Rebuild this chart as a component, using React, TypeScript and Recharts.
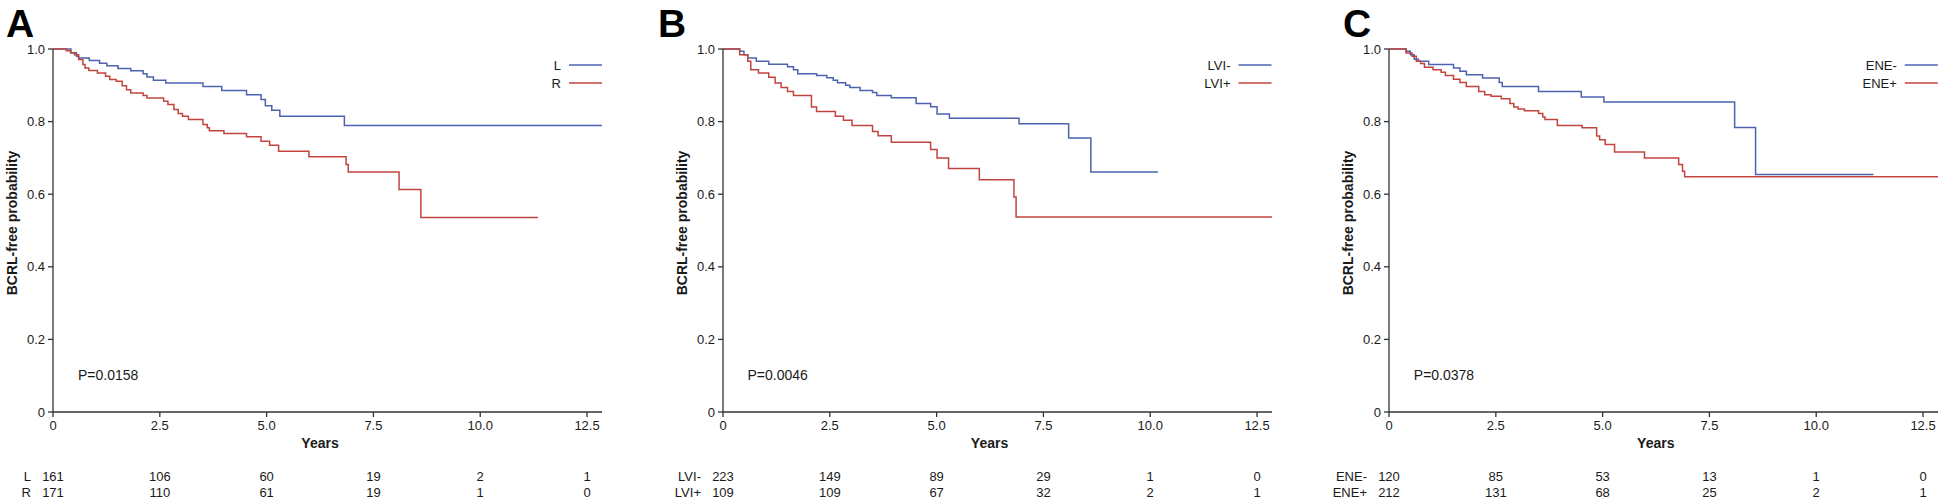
import { LineChart, Line, XAxis, YAxis } from 'recharts';

// step curves: [years, probability]
const sideL = [[0, 1], [0.42, 0.99], [0.55, 0.98], [0.6, 0.975], [0.85, 0.968], [1.09, 0.961], [1.26, 0.954], [1.52, 0.946], [1.82, 0.94], [2.11, 0.932], [2.2, 0.923], [2.35, 0.914], [2.64, 0.906], [3.51, 0.897], [3.95, 0.886], [4.53, 0.874], [4.87, 0.861], [4.97, 0.844], [5.12, 0.831], [5.31, 0.815], [6.82, 0.789], [12.85, 0.789]];
const sideR = [[0, 1], [0.31, 0.995], [0.41, 0.99], [0.5, 0.984], [0.6, 0.971], [0.7, 0.957], [0.75, 0.948], [0.84, 0.941], [1.04, 0.934], [1.23, 0.925], [1.33, 0.916], [1.48, 0.911], [1.62, 0.899], [1.72, 0.888], [1.82, 0.879], [2.11, 0.872], [2.2, 0.865], [2.59, 0.856], [2.69, 0.847], [2.83, 0.833], [2.93, 0.822], [3.03, 0.815], [3.17, 0.806], [3.51, 0.792], [3.61, 0.783], [3.66, 0.775], [4.0, 0.767], [4.53, 0.758], [4.87, 0.746], [5.07, 0.735], [5.28, 0.718], [5.99, 0.703], [6.86, 0.682], [6.91, 0.661], [8.1, 0.613], [8.61, 0.536], [11.35, 0.536]];

const lviNeg = [[0, 1], [0.39, 0.994], [0.49, 0.984], [0.58, 0.975], [0.78, 0.966], [1.07, 0.958], [1.51, 0.951], [1.65, 0.943], [1.75, 0.932], [2.19, 0.927], [2.43, 0.921], [2.58, 0.914], [2.68, 0.907], [2.87, 0.9], [2.97, 0.894], [3.21, 0.886], [3.5, 0.88], [3.6, 0.872], [3.94, 0.866], [4.52, 0.85], [4.86, 0.841], [5.01, 0.821], [5.3, 0.809], [6.93, 0.794], [8.09, 0.755], [8.61, 0.661], [10.18, 0.661]];
const lviPos = [[0, 1], [0.39, 0.984], [0.58, 0.966], [0.65, 0.943], [0.83, 0.934], [1.07, 0.922], [1.22, 0.906], [1.36, 0.894], [1.51, 0.883], [1.65, 0.872], [2.07, 0.84], [2.19, 0.828], [2.63, 0.815], [2.82, 0.804], [3.02, 0.789], [3.5, 0.773], [3.63, 0.761], [3.94, 0.743], [4.86, 0.723], [5.01, 0.7], [5.28, 0.671], [6.0, 0.64], [6.81, 0.592], [6.86, 0.537], [12.85, 0.537]];

const eneNeg = [[0, 1], [0.4, 0.994], [0.5, 0.984], [0.59, 0.972], [0.69, 0.966], [0.93, 0.957], [1.51, 0.948], [1.66, 0.939], [1.81, 0.929], [2.19, 0.92], [2.58, 0.908], [2.65, 0.897], [3.5, 0.883], [4.5, 0.868], [5.03, 0.854], [8.09, 0.784], [8.58, 0.654], [11.34, 0.654]];
const enePos = [[0, 1], [0.4, 0.989], [0.54, 0.98], [0.64, 0.966], [0.74, 0.96], [0.83, 0.95], [1.03, 0.943], [1.22, 0.936], [1.32, 0.927], [1.51, 0.917], [1.66, 0.908], [1.81, 0.897], [2.1, 0.883], [2.24, 0.874], [2.39, 0.87], [2.63, 0.863], [2.83, 0.85], [2.92, 0.84], [3.02, 0.835], [3.17, 0.83], [3.5, 0.822], [3.6, 0.813], [3.65, 0.806], [3.94, 0.789], [4.52, 0.783], [4.86, 0.76], [4.93, 0.75], [5.06, 0.737], [5.28, 0.716], [5.98, 0.7], [6.78, 0.682], [6.87, 0.663], [6.92, 0.648], [12.85, 0.648]];

// numbers at risk under each year tick
const riskL = [161, 106, 60, 19, 2, 1];
const riskR = [171, 110, 61, 19, 1, 0];
const riskLviNeg = [223, 149, 89, 29, 1, 0];
const riskLviPos = [109, 109, 67, 32, 2, 1];
const riskEneNeg = [120, 85, 53, 13, 1, 0];
const riskEnePos = [212, 131, 68, 25, 2, 1];

const yearTicks = [0, 2.5, 5, 7.5, 10, 12.5];
const probTicks = [0, 0.2, 0.4, 0.6, 0.8, 1.0];

const BLUE = '#4d63b0';
const RED = '#c1443e';
const AXIS = '#333';
const INK = '#1a1a1a';
const FONT = '"Liberation Sans", Arial, sans-serif';

const PAD = 27; // room left of the y axis for the risk table labels
const Y_W = 53;
const PLOT_W = 549;
const CHART_W = 640;
const X_MAX = 12.85;

const toPts = (rows: number[][]) => rows.map(([t, s]) => ({ t, s }));

interface PanelProps {
  plotLeft: number;
  names: [string, string];
  curves: [number[][], number[][]];
  risk: [number[], number[]];
}

const Panel = ({ plotLeft, names, curves, risk }: PanelProps) => {
  const renderTick = (props: any) => {
    const { x, y, payload } = props;
    const i = yearTicks.indexOf(payload.value);
    const v = payload.value;
    return (
      <g fontFamily={FONT} fill={INK}>
        <text x={x} y={y} dy="0.71em" textAnchor="middle" fontSize={13}>
          {v === 0 ? '0' : v.toFixed(1)}
        </text>
        <text x={x} y={y + 60} textAnchor="middle" fontSize={13}>{risk[0][i]}</text>
        <text x={x} y={y + 75.5} textAnchor="middle" fontSize={13}>{risk[1][i]}</text>
        {i === 0 && (
          <>
            <text x={x - 22} y={y + 60} textAnchor="end" fontSize={13}>{names[0]}</text>
            <text x={x - 22} y={y + 75.5} textAnchor="end" fontSize={13}>{names[1]}</text>
          </>
        )}
      </g>
    );
  };

  return (
    <div style={{ position: 'absolute', left: plotLeft - Y_W - PAD, top: 0 }}>
      <LineChart
        width={CHART_W}
        height={501}
        margin={{ top: 49, right: CHART_W - PAD - Y_W - PLOT_W, bottom: 0, left: PAD }}
      >
        <XAxis
          dataKey="t"
          type="number"
          domain={[0, X_MAX]}
          allowDataOverflow
          ticks={yearTicks}
          interval={0}
          height={89}
          tickSize={5}
          tickMargin={4}
          stroke={AXIS}
          strokeWidth={1.3}
          tick={renderTick}
        />
        <YAxis
          type="number"
          domain={[0, 1]}
          ticks={probTicks}
          interval={0}
          width={Y_W}
          tickSize={5}
          tickMargin={3}
          stroke={AXIS}
          strokeWidth={1.3}
          tick={{ fill: INK, fontSize: 13, fontFamily: FONT }}
          tickFormatter={(v: number) => (v === 0 ? '0' : v.toFixed(1))}
        />
        <Line data={toPts(curves[0])} dataKey="s" type="stepAfter" stroke={BLUE} strokeWidth={1.5} dot={false} isAnimationActive={false} />
        <Line data={toPts(curves[1])} dataKey="s" type="stepAfter" stroke={RED} strokeWidth={1.5} dot={false} isAnimationActive={false} />
      </LineChart>
    </div>
  );
};

const panels = [
  { plotLeft: 53, letter: 'A', letterX: 6, names: ['L', 'R'] as [string, string], curves: [sideL, sideR] as [number[][], number[][]], risk: [riskL, riskR] as [number[], number[]], p: 'P=0.0158' },
  { plotLeft: 722.5, letter: 'B', letterX: 658, names: ['LVI-', 'LVI+'] as [string, string], curves: [lviNeg, lviPos] as [number[][], number[][]], risk: [riskLviNeg, riskLviPos] as [number[], number[]], p: 'P=0.0046' },
  { plotLeft: 1388.8, letter: 'C', letterX: 1343, names: ['ENE-', 'ENE+'] as [string, string], curves: [eneNeg, enePos] as [number[][], number[][]], risk: [riskEneNeg, riskEnePos] as [number[], number[]], p: 'P=0.0378' },
];

const App = () => {
  return (
    <div style={{ position: 'absolute', left: 0, top: 0, width: 1946, height: 501, background: '#fff', overflow: 'hidden', fontFamily: FONT }}>
      {panels.map((p) => (
        <Panel key={p.letter} plotLeft={p.plotLeft} names={p.names} curves={p.curves} risk={p.risk} />
      ))}
      <svg width={1946} height={501} style={{ position: 'absolute', left: 0, top: 0, pointerEvents: 'none' }} fontFamily={FONT}>
        {panels.map((p) => {
          const x0 = p.plotLeft;
          const x1 = x0 + PLOT_W;
          return (
            <g key={p.letter}>
              <text x={p.letterX} y={37} fontSize={39} fontWeight="bold" fill="#000">{p.letter}</text>
              <text
                x={x0 - 36}
                y={223}
                transform={`rotate(-90 ${x0 - 36} 223)`}
                textAnchor="middle"
                fontSize={14}
                fontWeight="bold"
                fill={INK}
              >
                BCRL-free probability
              </text>
              <text x={x0 + 267} y={448} textAnchor="middle" fontSize={14} fontWeight="bold" fill={INK}>Years</text>
              <text x={x0 + 25} y={380} fontSize={14} fill={INK}>{p.p}</text>
              <text x={x1 - 41} y={69.5} textAnchor="end" fontSize={13} fill={INK}>{p.names[0]}</text>
              <text x={x1 - 41} y={87.5} textAnchor="end" fontSize={13} fill={INK}>{p.names[1]}</text>
              <line x1={x1 - 33} x2={x1} y1={65} y2={65} stroke={BLUE} strokeWidth={1.5} />
              <line x1={x1 - 33} x2={x1} y1={83} y2={83} stroke={RED} strokeWidth={1.5} />
            </g>
          );
        })}
      </svg>
    </div>
  );
};

export default App;
